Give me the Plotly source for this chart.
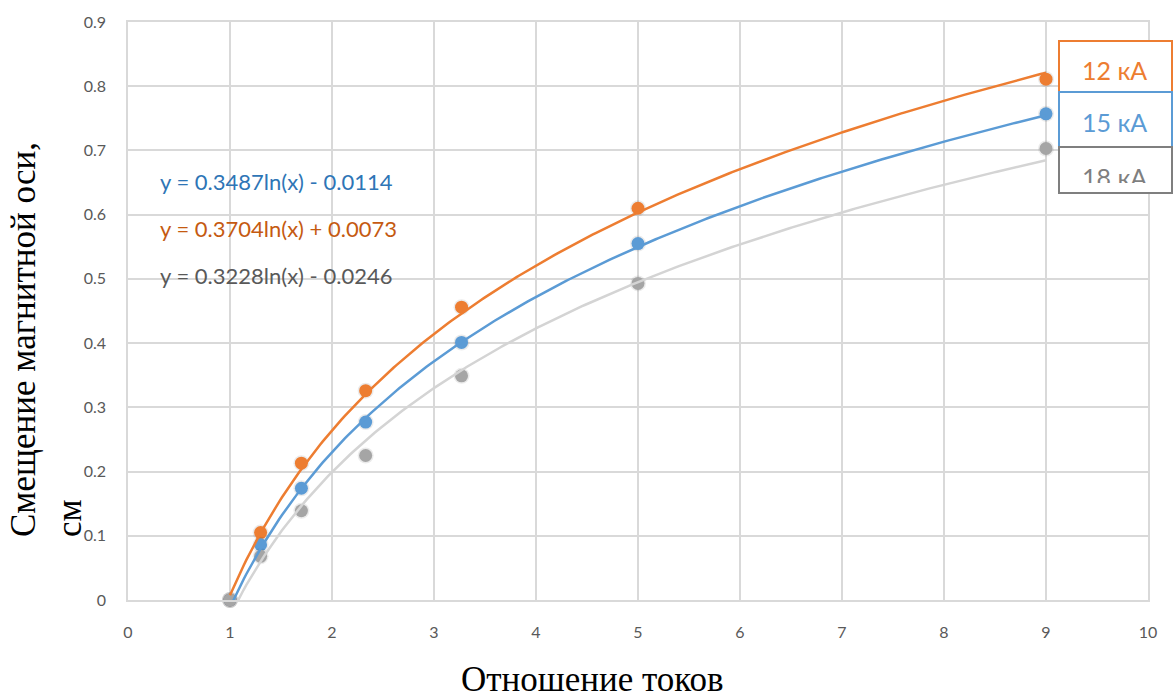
import numpy as np
import plotly.graph_objects as go

# ---- data ----
ratio = [1, 1.3, 1.7, 2.33, 3.27, 5, 9]
disp_12kA = [0, 0.105, 0.213, 0.326, 0.456, 0.610, 0.811]
disp_15kA = [0, 0.086, 0.174, 0.277, 0.401, 0.555, 0.757]
disp_18kA = [0, 0.068, 0.139, 0.225, 0.349, 0.493, 0.703]

# logarithmic trendline coefficients (slope, intercept) as shown on the chart
trend_12kA = [0.3704, 0.0073]
trend_15kA = [0.3487, -0.0114]
trend_18kA = [0.3228, -0.0246]

series_names = ["12 кА", "15 кА", "18 кА"]
eq_texts = ["y = 0.3487ln(x) - 0.0114", "y = 0.3704ln(x) + 0.0073", "y = 0.3228ln(x) - 0.0246"]

x_ticks = list(range(0, 11))
y_ticks = [0, 0.1, 0.2, 0.3, 0.4, 0.5, 0.6, 0.7, 0.8, 0.9]

ORANGE = "#ED7D31"
BLUE = "#5B9BD5"
GRAY = "#A5A5A5"
GRAY_TREND = "#D4D4D4"
GRID = "#D9D9D9"
TICK = "#595959"

fig = go.Figure()

series = [
    (disp_12kA, trend_12kA, ORANGE, ORANGE),
    (disp_15kA, trend_15kA, BLUE, BLUE),
    (disp_18kA, trend_18kA, GRAY, GRAY_TREND),
]

# marker shadows + markers
for ys, _, col, _ in series:
    fig.add_trace(go.Scatter(x=ratio, y=ys, mode="markers",
                             marker=dict(size=16, color="rgba(0,0,0,0.08)", line=dict(width=0)),
                             hoverinfo="skip", showlegend=False, cliponaxis=False))
    fig.add_trace(go.Scatter(x=ratio, y=ys, mode="markers",
                             marker=dict(size=13, color=col, line=dict(width=0)),
                             showlegend=False, cliponaxis=False))

# trendlines
xt = np.linspace(min(ratio), max(ratio), 300)
for _, (a, b), _, tcol in series:
    fig.add_trace(go.Scatter(x=xt, y=a * np.log(xt) + b, mode="lines",
                             line=dict(color=tcol, width=2.5),
                             hoverinfo="skip", showlegend=False))

L, R, T, B = 128, 26, 22, 100
W, H = 1174, 700
PW, PH = W - L - R, H - T - B


def px(xp):
    return (xp - L) / PW


def py(yp):
    return (H - B - yp) / PH


annotations = []
# equation labels
eq_colors = ["#2E75B6", "#C55A11", "#595959"]
eq_y = [181, 228.5, 275]
for t, c, yy in zip(eq_texts, eq_colors, eq_y):
    annotations.append(dict(text=t, xref="paper", yref="paper", x=px(158), y=py(yy),
                            xanchor="left", yanchor="middle", showarrow=False,
                            font=dict(family="Lato", size=22, color=c)))

# legend-like boxes
shapes = []
boxes = [(41, 92, ORANGE), (92, 147, BLUE), (147, 193, "#7F7F7F")]
for y0, y1, c in boxes:
    shapes.append(dict(type="rect", xref="paper", yref="paper",
                       x0=px(1059), x1=px(1172), y0=py(y1), y1=py(y0),
                       fillcolor="white", line=dict(color=c, width=2), layer="above"))
box_text_colors = [ORANGE, BLUE, "#7F7F7F"]
box_text_y = [70, 121.5, 177]
for name, c, yy in zip(series_names, box_text_colors, box_text_y):
    annotations.append(dict(text=name, xref="paper", yref="paper", x=px(1114), y=py(yy),
                            xanchor="center", yanchor="middle", showarrow=False,
                            font=dict(family="Lato", size=25, color=c)))
# clip bottom of last box text
annotations.append(dict(text=" ", xref="paper", yref="paper", x=px(1115.5), y=py(187),
                        xanchor="center", yanchor="middle", showarrow=False,
                        width=105, height=8, bgcolor="white", borderpad=0, borderwidth=0,
                        font=dict(size=4)))

# axis titles
annotations.append(dict(text="Смещение магнитной оси,<br>см", xref="paper", yref="paper",
                        x=px(46), y=py(340), xanchor="center", yanchor="middle",
                        textangle=-90, align="left", showarrow=False,
                        font=dict(family="Liberation Serif", size=35, color="black")))
annotations.append(dict(text="Отношение токов", xref="paper", yref="paper",
                        x=px(592), y=py(679), xanchor="center", yanchor="middle",
                        showarrow=False,
                        font=dict(family="Liberation Serif", size=35, color="black")))

fig.update_layout(
    width=W, height=H,
    margin=dict(l=L, r=R, t=T, b=B),
    paper_bgcolor="white", plot_bgcolor="white",
    showlegend=False,
    annotations=annotations,
    shapes=shapes,
    font=dict(family="Lato", color=TICK),
)
fig.update_xaxes(range=[0, 10], tickvals=x_ticks, ticktext=[str(v) for v in x_ticks],
                 showgrid=True, gridcolor=GRID, gridwidth=1.5, zeroline=False,
                 showline=True, linecolor=GRID, linewidth=1.5, mirror=True,
                 ticks="outside", ticklen=17, tickcolor="rgba(0,0,0,0)",
                 tickfont=dict(family="Lato", size=16, color=TICK))
fig.update_yaxes(range=[0, 0.9], tickvals=y_ticks, ticktext=[("%g" % v) for v in y_ticks],
                 showgrid=True, gridcolor=GRID, gridwidth=1.5, zeroline=False,
                 showline=True, linecolor=GRID, linewidth=1.5, mirror=True,
                 ticks="outside", ticklen=17, tickcolor="rgba(0,0,0,0)",
                 tickfont=dict(family="Lato", size=16, color=TICK))

fig.write_html("out.html", config={"displayModeBar": False},
               post_script="document.body.style.margin='0';document.body.style.padding='0';")
